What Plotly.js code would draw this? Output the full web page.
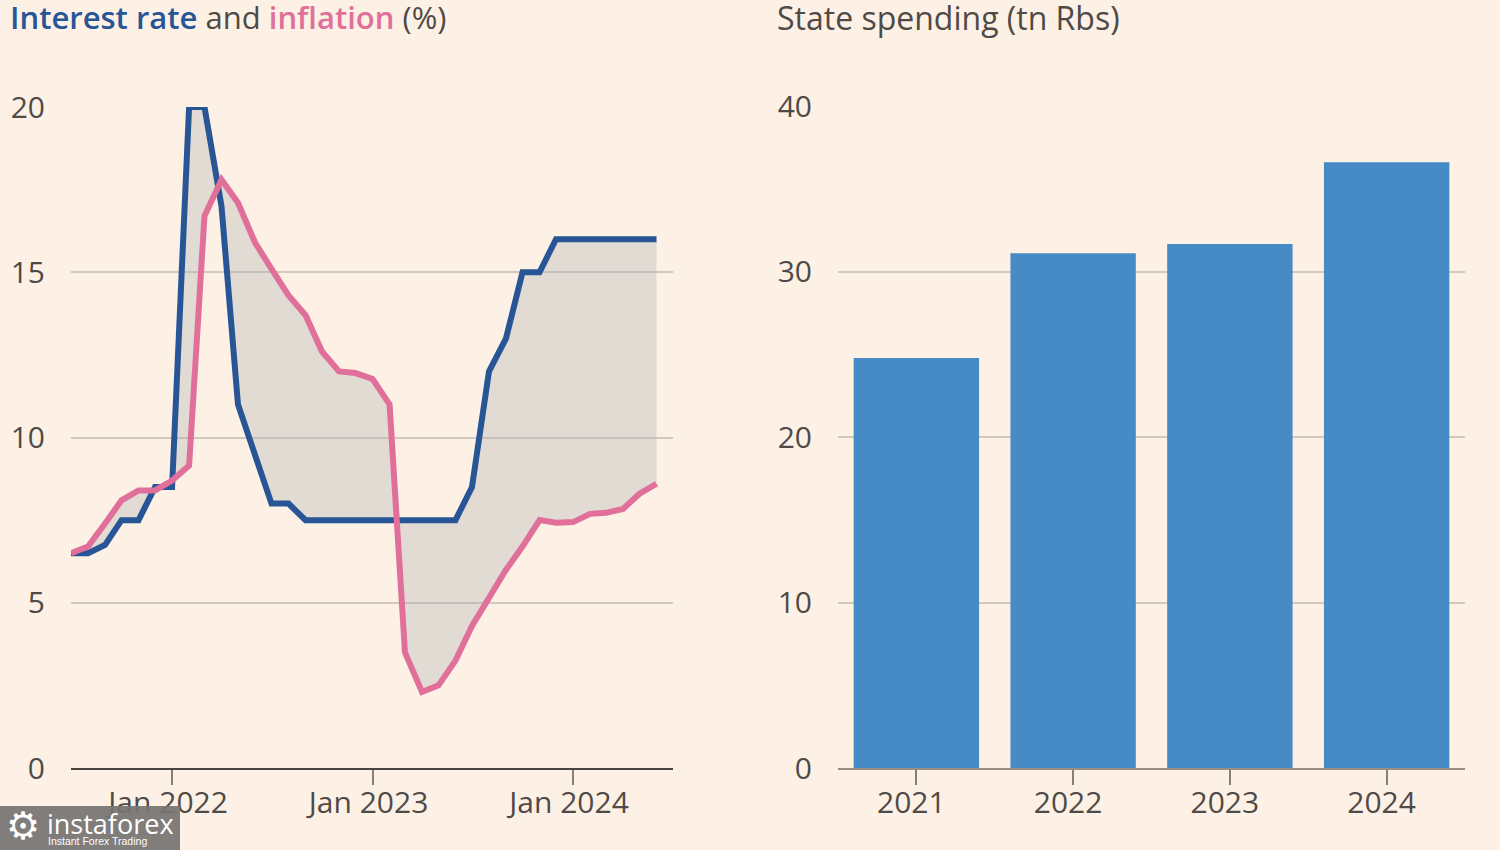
<!DOCTYPE html>
<html><head><meta charset="utf-8">
<script src="https://cdn.plot.ly/plotly-3.0.1.min.js"></script>
<style>html,body{margin:0;padding:0;background:#fdf1e6}</style></head>
<body><div id="chart" style="width:1500px;height:850px"></div>
<script>
const months = ["2021-07-01","2021-08-01","2021-09-01","2021-10-01","2021-11-01","2021-12-01",
"2022-01-01","2022-02-01","2022-03-01","2022-04-01","2022-05-01","2022-06-01","2022-07-01","2022-08-01","2022-09-01","2022-10-01","2022-11-01","2022-12-01",
"2023-01-01","2023-02-01","2023-03-01","2023-04-01","2023-05-01","2023-06-01","2023-07-01","2023-08-01","2023-09-01","2023-10-01","2023-11-01","2023-12-01",
"2024-01-01","2024-02-01","2024-03-01","2024-04-01","2024-05-01","2024-06-01"];
const interestRate = [6.5,6.5,6.75,7.5,7.5,8.5,8.5,20,20,17,11,9.5,8,8,7.5,7.5,7.5,7.5,7.5,7.5,7.5,7.5,7.5,7.5,8.5,12,13,15,15,16,16,16,16,16,16,16];
const inflation = [6.5,6.7,7.4,8.1,8.4,8.4,8.7,9.15,16.7,17.8,17.1,15.9,15.1,14.3,13.7,12.6,12.0,11.95,11.77,11.0,3.5,2.3,2.5,3.25,4.3,5.15,6.0,6.7,7.5,7.42,7.44,7.69,7.72,7.84,8.3,8.6];
const years = ["2021","2022","2023","2024"];
const spending = [24.77,31.1,31.66,36.6];
const leftTicks = [0,5,10,15,20];
const rightTicks = [0,10,20,30,40];
const dateTicks = ["2022-01-01","2023-01-01","2024-01-01"];
const dateLabels = ["Jan 2022","Jan 2023","Jan 2024"];

const FONT = "'Open Sans', Lato, sans-serif";
const TXT = "#4f4a46", GRID = "#d3cabf", TICK = "#857f78";
const BLUE = "#275596", PINK = "#e0709a", BAR = "#468bc5", BG = "#fdf1e6";
const W = 1500, H = 850;

const traces = [
 {x:months,y:interestRate,type:"scatter",mode:"lines",xaxis:"x",yaxis:"y",cliponaxis:false,
  line:{color:BLUE,width:6,shape:"linear"},hoverinfo:"skip"},
 {x:months,y:inflation,type:"scatter",mode:"lines",xaxis:"x",yaxis:"y",cliponaxis:false,fill:"tonexty",
  fillcolor:"rgba(166,168,173,0.3)",line:{color:PINK,width:6,shape:"linear"},hoverinfo:"skip"},
 {x:years,y:spending,type:"bar",xaxis:"x2",yaxis:"y2",marker:{color:BAR},hoverinfo:"skip"}
];
const yCommon = {showline:false,zeroline:false,ticks:"",showgrid:true,gridcolor:GRID,gridwidth:2,
  tickfont:{family:FONT,size:30,color:TXT},ticklabelstandoff:25};
const xCommon = {showline:true,linewidth:2,ticks:"outside",ticklen:15,tickwidth:2,tickcolor:TICK,
  showgrid:false,zeroline:false,tickfont:{family:FONT,size:30,color:TXT},ticklabelstandoff:-8};
const layout = {
 width:W,height:H,margin:{l:0,r:0,t:0,b:0},paper_bgcolor:BG,plot_bgcolor:"rgba(0,0,0,0)",showlegend:false,bargap:0.2,
 xaxis:{...xCommon,linecolor:"#4a4540",type:"date",domain:[71/W,673/W],range:["2021-07-01","2024-07-01"],anchor:"y",
   tickmode:"array",tickvals:dateTicks,ticktext:dateLabels,ticklabelshift:-4},
 yaxis:{...yCommon,domain:[(H-768)/H,(H-107)/H],range:[0,20],anchor:"x",tickmode:"array",tickvals:leftTicks},
 xaxis2:{...xCommon,linecolor:"#9a8e82",type:"category",domain:[838/W,1465/W],range:[-0.5,3.5],anchor:"y2",ticklabelshift:-5},
 yaxis2:{...yCommon,domain:[(H-768)/H,(H-106)/H],range:[0,40],anchor:"x2",tickmode:"array",tickvals:rightTicks},
 shapes:[{type:"rect",xref:"paper",yref:"paper",x0:0,x1:180/W,y0:0,y1:44/H,fillcolor:"rgba(118,116,114,0.93)",line:{width:0},layer:"above"}],
 annotations:[
  {xref:"paper",yref:"paper",x:8/W,y:1-17/H,xanchor:"left",yanchor:"middle",showarrow:false,
   font:{family:FONT,size:31,color:TXT},
   text:`<span style="color:${BLUE};font-weight:600">Interest rate</span> and <span style="color:${PINK};font-weight:600">inflation</span> (%)`},
  {xref:"paper",yref:"paper",x:775/W,y:1-17/H,xanchor:"left",yanchor:"middle",showarrow:false,
   font:{family:FONT,size:32,color:TXT},text:"State spending (tn Rbs)"},
  {xref:"paper",yref:"paper",x:23/W,y:1-826/H,xanchor:"center",yanchor:"middle",showarrow:false,
   font:{family:"DejaVu Sans",size:38,color:"#ffffff"},text:"\u2699"},
  {xref:"paper",yref:"paper",x:45/W,y:1-823/H,xanchor:"left",yanchor:"middle",showarrow:false,
   font:{family:"Open Sans",size:27,color:"#ffffff"},text:"instaforex"},
  {xref:"paper",yref:"paper",x:46/W,y:1-841/H,xanchor:"left",yanchor:"middle",showarrow:false,
   font:{family:"Liberation Sans",size:10.5,color:"#ffffff"},text:"Instant Forex Trading"}
 ]
};
Plotly.newPlot("chart",traces,layout,{displayModeBar:false,staticPlot:true});
</script></body></html>
